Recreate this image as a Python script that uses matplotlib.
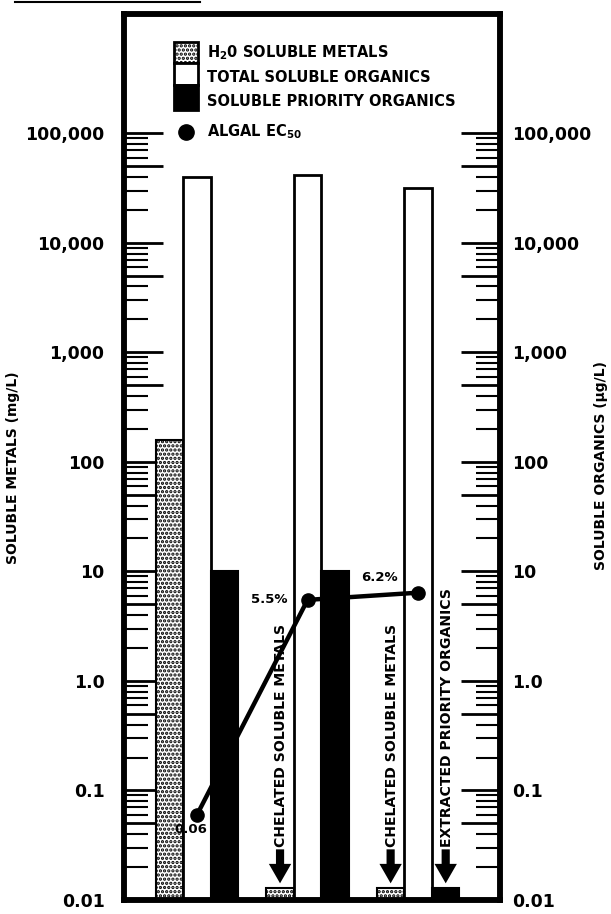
import matplotlib
matplotlib.use("Agg")
import matplotlib.pyplot as plt
from matplotlib.patches import Rectangle
from matplotlib.lines import Line2D
import matplotlib.ticker as mticker

# ---- data ----
groups = [0, 1, 2]
metals = [160, 0.013, 0.013]            # H2O soluble metals (mg/L)
total_org = [40000, 42000, 31500]       # total soluble organics (ug/L)
priority_org = [10, 10, 0.013]          # soluble priority organics (ug/L)
ec50 = [0.06, 5.5, 6.4]                 # algal EC50
ec50_labels = ["0.06", "5.5%", "6.2%"]
tick_vals = [0.01, 0.1, 1, 10, 100, 1000, 10000, 100000]
tick_labels = ["0.01", "0.1", "1.0", "10", "100", "1,000", "10,000", "100,000"]
legend_labels = ["H$_2$0 SOLUBLE METALS", "TOTAL SOLUBLE ORGANICS",
                 "SOLUBLE PRIORITY ORGANICS"]
annot_text = ["CHELATED SOLUBLE METALS", "CHELATED SOLUBLE METALS",
              "EXTRACTED PRIORITY ORGANICS"]

FONT = "DejaVu Sans"
plt.rcParams["font.family"] = FONT
plt.rcParams["mathtext.fontset"] = "dejavusans"
plt.rcParams["mathtext.default"] = "bf"
plt.rcParams["hatch.linewidth"] = 1.6

W, H = 611, 914
fig = plt.figure(figsize=(W / 100, H / 100), dpi=100)
L, R, T, B = 124, 500, 14, 900
ax = fig.add_axes([L / W, (H - B) / H, (R - L) / W, (B - T) / H])
ax.set_yscale("log")
YMIN = 0.01
ax.set_ylim(YMIN, 10 ** 6.09)
ax.set_xlim(-0.66, 2.74)
w = 0.249

for g, m, t, p in zip(groups, metals, total_org, priority_org):
    ax.bar(g - w, m - YMIN, width=w, bottom=YMIN, facecolor="white",
           edgecolor="black", hatch="....", linewidth=1.5, zorder=2)
    ax.bar(g, t - YMIN, width=w, bottom=YMIN, facecolor="white",
           edgecolor="black", linewidth=2, zorder=2)
    ax.bar(g + w, p - YMIN, width=w, bottom=YMIN, facecolor="black",
           edgecolor="black", linewidth=1.5, zorder=2)

ax.plot(groups, ec50, color="black", lw=3.2, marker="o", ms=9.5, zorder=5)
lab_dx = [-0.054, -0.35, -0.353]
lab_fy = [0.74, 1.0, 1.38]
for g, v, s, dx, fy_ in zip(groups, ec50, ec50_labels, lab_dx, lab_fy):
    ax.text(g + dx, v * fy_, s, fontsize=9.5, fontweight="bold",
            ha="center", va="center", zorder=6)

# annotations with arrows
annot_x = [groups[1] - w, groups[2] - w, groups[2] + w]
for x, txt in zip(annot_x, annot_text):
    ax.annotate("", xy=(x, 0.0142), xytext=(x, 0.029),
                arrowprops=dict(arrowstyle="simple,head_width=1.15,head_length=1.0,tail_width=0.42",
                                color="black", lw=0, shrinkA=0, shrinkB=0,
                                mutation_scale=14), zorder=6)
    ax.text(x + 0.01, 0.0305, txt, rotation=90, ha="center", va="bottom",
            fontsize=10.1, fontweight="bold", zorder=6)

# ticks (the scale stops at 100,000)
minor = [m * 10.0 ** e for e in range(-2, 5) for m in (2, 3, 4, 6, 7, 8, 9)]
fives = [5 * 10.0 ** e for e in range(-2, 5)]
ax.set_xticks([])


def style_axis(a, side, pad):
    a.set_yticks(tick_vals + fives)
    a.set_yticklabels(tick_labels + [""] * len(fives))
    a.set_yticks(minor, minor=True)
    a.yaxis.set_minor_formatter(mticker.NullFormatter())
    kw = {"left": side == "left", "right": side == "right",
          "labelleft": side == "left", "labelright": side == "right"}
    a.tick_params(axis="y", which="major", direction="in", length=28, width=2,
                  pad=pad, labelsize=12.5, **kw)
    a.tick_params(axis="y", which="minor", direction="in", length=17,
                  width=1.5, **kw)
    for lab in a.get_yticklabels():
        lab.set_fontweight("bold")


style_axis(ax, "left", 14)
ax2 = ax.twinx()
ax2.set_yscale("log")
ax2.set_ylim(ax.get_ylim())
style_axis(ax2, "right", 9)

for a in (ax, ax2):
    for s in a.spines.values():
        s.set_linewidth(4)

ax.set_ylabel("SOLUBLE METALS (mg/L)", fontsize=10, fontweight="bold")
ax.yaxis.set_label_coords(-(124 - 20) / 376, 0.488)
ax2.set_ylabel("SOLUBLE ORGANICS (µg/L)", fontsize=10, fontweight="bold",
               rotation=90)
ax2.yaxis.set_label_coords((594 - 124) / 376, 0.49)


# legend (manual, axes fraction coordinates)
def fx(px):
    return (px - L) / (R - L)


def fy(py):
    return (B - py) / (B - T)


sw_x0, sw_x1 = fx(174), fx(198)
edges = [42, 63, 85, 110]
styles = [dict(facecolor="white", edgecolor="black", hatch="...."),
          dict(facecolor="white", edgecolor="black"),
          dict(facecolor="black", edgecolor="black")]
ys_text = [53, 77, 102]
for i, (st, txt) in enumerate(zip(styles, legend_labels)):
    r = Rectangle((sw_x0, fy(edges[i + 1])), sw_x1 - sw_x0,
                  fy(edges[i]) - fy(edges[i + 1]), transform=ax.transAxes,
                  linewidth=2, zorder=7, **st)
    ax.add_patch(r)
    ax.text(fx(207), fy(ys_text[i]), txt, transform=ax.transAxes,
            fontsize=10.5, fontweight="bold", va="center", ha="left", zorder=7)
ax.plot([fx(186)], [fy(132)], "o", color="black", ms=11,
        transform=ax.transAxes, zorder=7, clip_on=False)
ax.text(fx(207), fy(132), "ALGAL EC$_{50}$", transform=ax.transAxes,
        fontsize=10.5, fontweight="bold", va="center", ha="left", zorder=7)

# cropped underline at top-left
fig.add_artist(Line2D([15 / W, 200 / W], [1 - 1.5 / H, 1 - 1.5 / H],
                      color="black", lw=1.5))

fig.savefig("out.png", dpi=100)
